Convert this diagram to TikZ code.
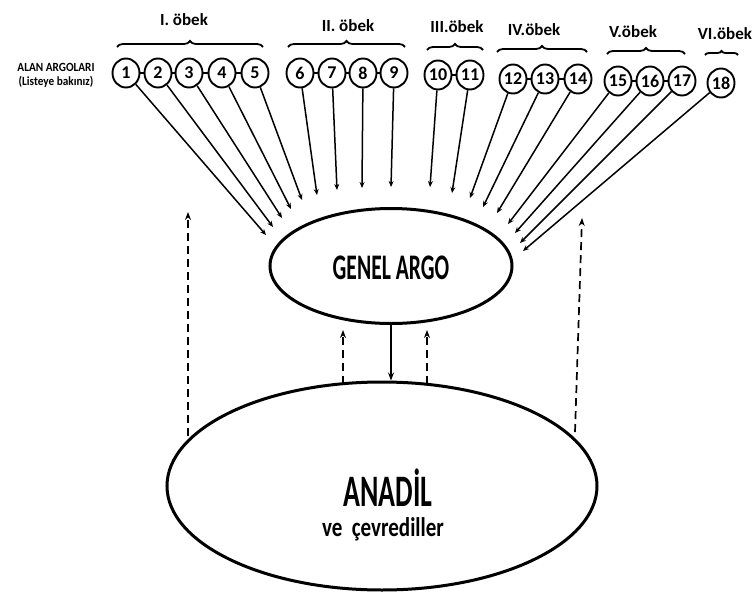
\documentclass[tikz,border=0pt]{standalone}
\usepackage{fontspec}
\setmainfont{Carlito}
\usetikzlibrary{shapes.geometric,arrows.meta,decorations.pathreplacing}
\begin{document}
\begin{tikzpicture}[x=1pt,y=-1pt,
  num/.style={draw,line width=1.9pt,ellipse,minimum width=27pt,minimum height=29pt,inner sep=0pt,font=\bfseries\fontsize{18}{18}\selectfont},
  link/.style={line width=1.5pt},
  feed/.style={line width=1.5pt,-{Stealth[length=6pt,width=5pt]}},
  dasharrow/.style={line width=1.7pt,dash pattern=on 8pt off 5pt,-{Stealth[length=8pt,width=6pt]}},
  grp/.style={decorate,decoration={brace,amplitude=6pt},line width=1.8pt},
  grplabel/.style={font=\bfseries\fontsize{17}{17}\selectfont},
  big/.style={draw,ellipse,line width=3pt,inner sep=0pt}]
\useasboundingbox (0,0) rectangle (756,608);

% left label
\node[align=center,font=\bfseries\fontsize{12.5}{14}\selectfont] (alan) at (56,75) {\scalebox{0.9}[1]{ALAN ARGOLARI}\\\scalebox{0.9}[1]{(Listeye bakınız)}};

% circles
\node[num] (c1) at (126,73) {1};
\node[num] (c2) at (158,73) {2};
\node[num] (c3) at (189,73) {3};
\node[num] (c4) at (222,73) {4};
\node[num] (c5) at (255,73) {5};
\node[num] (c6) at (300,73) {6};
\node[num] (c7) at (332,73) {7};
\node[num] (c8) at (363,73) {8};
\node[num] (c9) at (394,73) {9};
\node[num] (c10) at (438,75) {10};
\node[num] (c11) at (470,75) {11};
\node[num] (c12) at (513,79) {12};
\node[num] (c13) at (545,79) {13};
\node[num] (c14) at (578,79) {14};
\node[num] (c15) at (618,81) {15};
\node[num] (c16) at (650,81) {16};
\node[num] (c17) at (682,81) {17};
\node[num] (c18) at (721,83) {18};

% links inside groups
\draw[link] (c1) -- (c2); \draw[link] (c2) -- (c3); \draw[link] (c3) -- (c4); \draw[link] (c4) -- (c5);
\draw[link] (c6) -- (c7); \draw[link] (c7) -- (c8); \draw[link] (c8) -- (c9);
\draw[link] (c10) -- (c11);
\draw[link] (c12) -- (c13); \draw[link] (c13) -- (c14);
\draw[link] (c15) -- (c16); \draw[link] (c16) -- (c17);

% braces and labels
\coordinate (b1a) at (117,47); \coordinate (b1b) at (263,47);
\coordinate (b2a) at (288,47); \coordinate (b2b) at (405,47);
\coordinate (b3a) at (427,50); \coordinate (b3b) at (483,50);
\coordinate (b4a) at (497,52); \coordinate (b4b) at (587,52);
\coordinate (b5a) at (607,54); \coordinate (b5b) at (685,54);
\coordinate (b6a) at (705,55); \coordinate (b6b) at (738,55);
\draw[grp] (b1a) -- (b1b);
\draw[grp] (b2a) -- (b2b);
\draw[grp] (b3a) -- (b3b);
\draw[grp] (b4a) -- (b4b);
\draw[grp] (b5a) -- (b5b);
\draw[grp,decoration={brace,amplitude=4pt}] (b6a) -- (b6b);
\node[grplabel] (g1) at (184,20) {I. öbek};
\node[grplabel] (g2) at (348,26) {II. öbek};
\node[grplabel] (g3) at (457,27) {III.öbek};
\node[grplabel] (g4) at (534,30) {IV.öbek};
\node[grplabel] (g5) at (633,32) {V.öbek};
\node[grplabel] (g6) at (725,34) {VI.öbek};

% central ellipses
\node[big,minimum width=242pt,minimum height=115pt] (genel) at (391,266) {};
\node[font=\bfseries\fontsize{36}{36}\selectfont] (genelt) at (391,268) {\scalebox{0.6}[1]{GENEL ARGO}};
\node[big,minimum width=430pt,minimum height=208pt] (anadil) at (382,486) {};
\node[font=\bfseries\fontsize{45}{45}\selectfont] (anadilt) at (388,488) {\scalebox{0.62}[1]{ANADİL}};
\node[font=\bfseries\fontsize{27}{27}\selectfont] (cevre) at (383,529) {\scalebox{0.78}[1]{ve\hspace{6pt} çevrediller}};

% feed endpoints
\coordinate (e1) at (266,235);
\coordinate (e2) at (273,227);
\coordinate (e3) at (282,218);
\coordinate (e4) at (291,209);
\coordinate (e5) at (302,200);
\coordinate (e6) at (317,195);
\coordinate (e7) at (337,190);
\coordinate (e8) at (362,188);
\coordinate (e9) at (391,187);
\coordinate (e10) at (430,187);
\coordinate (e11) at (452,193);
\coordinate (e12) at (470,198);
\coordinate (e13) at (483,207);
\coordinate (e14) at (497,213);
\coordinate (e15) at (508,224);
\coordinate (e16) at (515,233);
\coordinate (e17) at (520,243);
\coordinate (e18) at (523,251);
\foreach \i in {1,...,18} {\draw[feed] (c\i) -- (e\i);}

% arrows between ellipses
\draw[feed,-{Stealth[length=8pt,width=6pt]}] (genel.south) -- (genel.south |- anadil.north);
\coordinate (dlb) at (188,436); \coordinate (dlt) at (188,212);
\coordinate (drb) at (575,432); \coordinate (drt) at (582,218);
\coordinate (dib1) at (343,384); \coordinate (dit1) at (343,330);
\coordinate (dib2) at (427,384); \coordinate (dit2) at (427,330);
\draw[dasharrow] (dlb) -- (dlt);
\draw[dasharrow] (drb) -- (drt);
\draw[dasharrow] (dib1) -- (dit1);
\draw[dasharrow] (dib2) -- (dit2);
\end{tikzpicture}
\end{document}
